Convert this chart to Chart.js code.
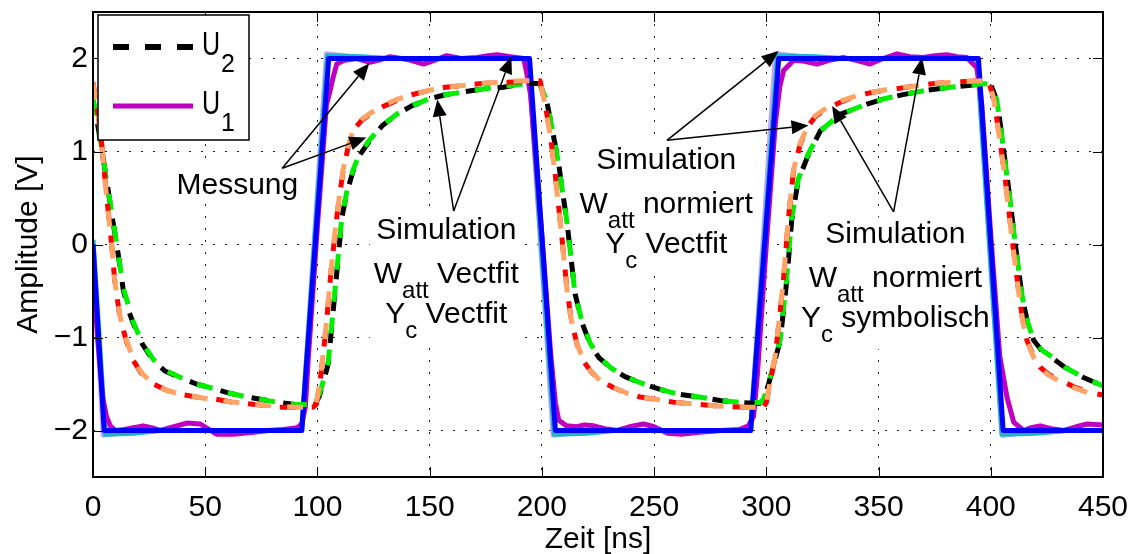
<!DOCTYPE html>
<html>
<head>
<meta charset="utf-8">
<script src="https://cdn.jsdelivr.net/npm/chart.js@4.4.1/dist/chart.umd.min.js"></script>
<style>
  html, body { margin: 0; padding: 0; background: #fff; }
  #wrap { width: 1136px; height: 554px; }
</style>
</head>
<body>
<div id="wrap"><canvas id="plot" width="1136" height="554"></canvas></div>
<script>
// Achsen
const xTicks = [0, 50, 100, 150, 200, 250, 300, 350, 400, 450];
const yTicks = [-2, -1, 0, 1, 2];

// Eingangsspannung U1: Simulation (blau, hellviolett, türkis) und Messung (magenta), [t in ns, U in V]
const u1Sim = [[0, 0], [5, -2], [93, -2], [105, 2], [194.5, 2], [206, -2], [293, -2], [305.5, 2], [394.5, 2], [405.5, -2], [450, -2]];
const u1SimB = [[0, 0.05], [4.5, -2.05], [12, -2.03], [20, -2.0], [93, -2], [104, 2.05], [112, 2.03], [120, 2.0], [194, 2], [205, -2.05], [213, -2.03], [222, -2.0], [293, -2], [304, 2.05], [312, 2.03], [320, 2.0], [394, 2], [405, -2.05], [413, -2.03], [422, -2.0], [450, -2]];
const u1SimC = [[0, 0.05], [5.5, -2.04], [18, -2.03], [30, -2.0], [93, -2], [104.5, 2.03], [120, 2.02], [132, 2.0], [194, 2], [205.5, -2.04], [220, -2.03], [232, -2.0], [293, -2], [305, 2.03], [322, 2.02], [334, 2.0], [394, 2], [405, -2.04], [420, -2.03], [434, -2.0], [450, -2.0]];
const u1Mess = [[0, -0.25], [2, -1.0], [4.3, -1.64], [6, -1.85], [7.7, -1.95], [10, -2.0], [14, -1.99], [18, -1.97], [22.4, -1.95], [26, -1.97], [30, -2.0], [36, -1.96], [41.8, -1.92], [47.8, -1.93], [55, -2.04], [62.5, -2.04], [71.5, -2.02], [78, -2.0], [84.8, -1.99], [91, -1.97], [93, -1.93], [94.6, -1.75], [96, -1.2], [100, 0.2], [104, 1.5], [105.6, 1.65], [107, 1.8], [108.6, 1.94], [112, 1.98], [117.5, 2.0], [123.4, 1.96], [127, 1.98], [132.4, 2.02], [140, 1.99], [147.3, 1.94], [152, 1.98], [157.6, 2.03], [164, 2.0], [171, 2.01], [176, 2.03], [180, 2.04], [186, 2.02], [191.9, 2.0], [193.6, 1.8], [195, 1.6], [200, 0.1], [204, -1.2], [206, -1.7], [207.5, -1.89], [211, -1.95], [215.5, -1.96], [219, -1.94], [223, -1.95], [228, -1.98], [233.5, -2.0], [239, -1.96], [245.3, -1.93], [250, -1.96], [256, -2.03], [262, -2.04], [270, -2.02], [280, -2.0], [288, -1.99], [292, -1.95], [294.3, -1.85], [296, -1.4], [300, 0.0], [304, 1.3], [306, 1.7], [307.7, 1.87], [312.2, 1.98], [317, 1.97], [322.6, 1.94], [328, 1.98], [334.5, 2.01], [340, 1.98], [346.3, 1.94], [352, 2.0], [358.2, 2.05], [364, 2.02], [370, 2.01], [375, 2.03], [380.4, 2.04], [385, 2.02], [389.3, 2.01], [393.8, 1.9], [396, 1.5], [400, 0.1], [404, -1.2], [407.2, -1.64], [410.2, -1.91], [414.6, -2.0], [418, -1.97], [422, -1.95], [427, -1.98], [432.5, -2.0], [438, -1.96], [443, -1.93], [450, -1.94]];

// Ausgangsspannung U2: Messung (schwarz) und drei Simulationen
const u2Mess = [[0, 1.55], [2, 1.3], [4, 1.0], [6.1, 0.69], [8.5, 0.3], [10.6, 0.0], [13.5, -0.49], [16, -0.72], [18, -0.85], [22, -1.07], [26.9, -1.25], [32, -1.36], [38.8, -1.43], [46, -1.5], [53.6, -1.55], [61, -1.6], [68.5, -1.64], [76, -1.67], [83.3, -1.7], [90, -1.72], [96, -1.73], [99, -1.72], [101, -1.62], [103, -1.45], [104.8, -1.28], [106.5, -0.85], [108.6, -0.31], [110.9, 0.29], [113, 0.55], [116, 0.8], [118.5, 0.95], [123.4, 1.12], [129, 1.28], [135.3, 1.4], [142, 1.49], [150.2, 1.57], [157, 1.61], [165, 1.64], [173, 1.67], [182.8, 1.69], [190, 1.72], [196, 1.73], [199, 1.73], [202.1, 1.55], [204.5, 1.25], [207.3, 0.9], [209, 0.6], [211.1, 0.26], [213, -0.15], [214.8, -0.53], [218, -0.85], [221.5, -1.07], [225.5, -1.22], [230.4, -1.32], [237, -1.42], [245.3, -1.5], [253, -1.56], [261, -1.61], [270, -1.64], [280, -1.68], [290, -1.7], [297, -1.71], [298.7, -1.68], [301, -1.5], [303.5, -1.28], [306.2, -1.03], [309.1, -0.39], [311.3, 0.26], [314.2, 0.69], [318.8, 0.97], [324, 1.22], [332.9, 1.4], [344.8, 1.51], [353, 1.57], [362.6, 1.62], [372, 1.66], [382, 1.69], [390, 1.71], [396.8, 1.73], [400, 1.72], [402.7, 1.55], [404.5, 1.25], [406.5, 0.87], [408.5, 0.5], [410.2, 0.15], [412, -0.2], [414, -0.57], [416.5, -0.85], [419.1, -1.03], [423, -1.15], [427.9, -1.23], [433, -1.32], [441.3, -1.43], [450, -1.52]];
const u2SimVV = [[0, 1.56], [2, 1.32], [4, 1.02], [6, 0.7], [8.5, 0.32], [10.5, 0.02], [13.5, -0.47], [18, -0.84], [22, -1.06], [27, -1.24], [32, -1.35], [39, -1.43], [46, -1.5], [54, -1.55], [61, -1.6], [68.5, -1.64], [76, -1.67], [83, -1.7], [90, -1.72], [96, -1.72], [99, -1.7], [101, -1.6], [103, -1.44], [104.8, -1.27], [106.5, -0.83], [108.6, -0.29], [110.9, 0.3], [113, 0.56], [116, 0.81], [118.5, 0.96], [123.4, 1.13], [129, 1.28], [135.3, 1.4], [142, 1.49], [150.2, 1.57], [157, 1.61], [165, 1.64], [173, 1.67], [182.8, 1.7], [190, 1.72], [196, 1.73], [199, 1.72], [202, 1.56], [204.5, 1.26], [207.2, 0.9], [209, 0.6], [211, 0.27], [213, -0.14], [214.7, -0.52], [218, -0.84], [221.5, -1.06], [225.5, -1.21], [230.4, -1.32], [237, -1.42], [245.3, -1.5], [253, -1.56], [261, -1.61], [270, -1.64], [280, -1.68], [290, -1.7], [297, -1.7], [298.7, -1.67], [301, -1.49], [303.5, -1.27], [306.2, -1.02], [309, -0.38], [311.2, 0.27], [314.2, 0.7], [318.8, 0.98], [324, 1.22], [332.9, 1.4], [344.8, 1.51], [353, 1.57], [362.6, 1.62], [372, 1.66], [382, 1.69], [390, 1.71], [396.8, 1.73], [400, 1.72], [402.6, 1.56], [404.5, 1.26], [406.4, 0.88], [408.5, 0.5], [410.1, 0.16], [412, -0.19], [414, -0.56], [416.5, -0.84], [419, -1.02], [423, -1.14], [428, -1.22], [433, -1.32], [441.3, -1.43], [450, -1.52]];
const u2SimNV = [[0, 1.74], [2, 1.45], [3.9, 1.08], [6.1, 0.51], [8.3, 0.0], [9.8, -0.42], [12, -0.78], [15, -1.05], [18, -1.25], [22, -1.4], [27, -1.5], [33, -1.57], [39, -1.61], [46, -1.64], [54, -1.66], [61, -1.69], [68.5, -1.71], [76, -1.73], [83, -1.75], [90, -1.75], [98, -1.75], [99.5, -1.72], [101, -1.5], [102.5, -1.2], [104, -0.85], [106, -0.3], [108.6, 0.29], [110, 0.55], [111.5, 0.8], [113.5, 1.03], [116, 1.23], [119.5, 1.33], [123.4, 1.4], [129, 1.48], [135.3, 1.55], [142, 1.61], [150.2, 1.66], [157, 1.69], [165, 1.71], [173, 1.73], [182.8, 1.745], [192, 1.75], [199.2, 1.76], [201.5, 1.5], [203.7, 1.19], [205.9, 0.76], [207.5, 0.4], [208.9, 0.08], [211.1, -0.46], [213, -0.8], [215.6, -1.07], [219, -1.27], [222, -1.37], [225.9, -1.46], [232, -1.54], [238, -1.6], [243.8, -1.64], [252, -1.67], [260, -1.7], [270, -1.72], [280, -1.74], [290, -1.75], [298.6, -1.75], [300, -1.7], [302, -1.45], [303.9, -1.21], [305.8, -0.8], [307.6, -0.39], [309.9, 0.29], [312.1, 0.79], [315.1, 1.08], [318.8, 1.28], [322, 1.38], [327, 1.46], [333, 1.53], [340.4, 1.6], [348, 1.64], [356.7, 1.67], [365, 1.7], [374.5, 1.73], [385, 1.75], [396.8, 1.76], [399, 1.75], [401.3, 1.58], [403.5, 1.22], [406.5, 0.69], [409.4, 0.08], [412.4, -0.5], [414, -0.78], [416.1, -1.03], [419, -1.2], [422, -1.32], [426, -1.4], [431, -1.46], [437, -1.53], [444, -1.59], [450, -1.62]];
const u2SimNS = [[0, 1.73], [2, 1.44], [3.9, 1.07], [6.1, 0.5], [8.3, 0.0], [9.8, -0.41], [12, -0.77], [15, -1.04], [18, -1.24], [22, -1.39], [27, -1.5], [33, -1.57], [39, -1.61], [46, -1.64], [54, -1.67], [61, -1.69], [68.5, -1.71], [76, -1.73], [83, -1.74], [90, -1.75], [98, -1.75], [99.5, -1.71], [101, -1.49], [102.5, -1.19], [104, -0.84], [106, -0.29], [108.6, 0.3], [110, 0.56], [111.5, 0.81], [113.5, 1.04], [116, 1.24], [119.5, 1.34], [123.4, 1.41], [129, 1.49], [135.3, 1.56], [142, 1.61], [150.2, 1.66], [157, 1.69], [165, 1.71], [173, 1.73], [182.8, 1.75], [192, 1.76], [199.2, 1.76], [201.5, 1.49], [203.7, 1.18], [205.9, 0.75], [207.5, 0.39], [208.9, 0.07], [211.1, -0.47], [213, -0.8], [215.6, -1.07], [219, -1.27], [222, -1.37], [225.9, -1.46], [232, -1.54], [238, -1.6], [243.8, -1.64], [252, -1.67], [260, -1.7], [270, -1.72], [280, -1.74], [290, -1.75], [298.6, -1.75], [300, -1.7], [302, -1.44], [303.9, -1.2], [305.8, -0.79], [307.6, -0.38], [309.9, 0.3], [312.1, 0.8], [315.1, 1.09], [318.8, 1.29], [322, 1.39], [327, 1.47], [333, 1.54], [340.4, 1.6], [348, 1.64], [356.7, 1.68], [365, 1.7], [374.5, 1.73], [385, 1.75], [396.8, 1.76], [399, 1.75], [401.3, 1.57], [403.5, 1.21], [406.5, 0.68], [409.4, 0.07], [412.4, -0.51], [414, -0.79], [416.1, -1.04], [419, -1.21], [422, -1.33], [426, -1.41], [431, -1.47], [437, -1.54], [444, -1.6], [450, -1.62]];

// Beschriftungen im Diagramm (Position in Daten-Einheiten, Zeilen aus [Text, tiefgestellt])
const notizen = [
  { x: 64.3, y: 0.544, zeilen: [[['Messung', 0]]] },
  { x: 157.4, y: 0.06, zeilen: [[['Simulation', 0]], [['W', 0], ['att', 1], [' Vectfit', 0]], [['Y', 0], ['c', 1], [' Vectfit', 0]]] },
  { x: 255.4, y: 0.812, zeilen: [[['Simulation', 0]], [['W', 0], ['att', 1], [' normiert', 0]], [['Y', 0], ['c', 1], [' Vectfit', 0]]] },
  { x: 357.5, y: 0.013, zeilen: [[['Simulation', 0]], [['W', 0], ['att', 1], [' normiert', 0]], [['Y', 0], ['c', 1], [' symbolisch', 0]]] }
];
// Pfeile: [t0, U0, t1, U1] von der Beschriftung zur Kurve
const pfeile = [
  [84.3, 0.82, 123.1, 1.95], [84.3, 0.82, 121.8, 1.15],
  [160.7, 0.36, 153.4, 1.56], [160.7, 0.36, 186.4, 2.02],
  [255.7, 1.12, 305.5, 2.08], [255.7, 1.12, 318.8, 1.28],
  [356.7, 0.35, 329.3, 1.49], [356.7, 0.35, 369.4, 2.01]
];

const schrift = '"Liberation Sans", Arial, Helvetica, sans-serif';
const punkte = arr => arr.map(([x, y]) => ({ x, y }));

function linie(label, daten, farbe, order, dash, dashOffset) {
  return {
    label, data: punkte(daten), borderColor: farbe, backgroundColor: farbe,
    borderWidth: 5, pointRadius: 0, tension: 0, fill: false, order,
    borderDash: dash || [], borderDashOffset: dashOffset || 0,
    borderCapStyle: 'butt', borderJoinStyle: 'round'
  };
}

function zeileBreite(ctx, teile) {
  let w = 0;
  for (const [t, sub] of teile) {
    ctx.font = (sub ? 24 : 30) + 'px ' + schrift;
    w += ctx.measureText(t).width;
  }
  return w;
}

function zeichneZeile(ctx, teile, cx, y) {
  let x = cx - zeileBreite(ctx, teile) / 2;
  for (const [t, sub] of teile) {
    ctx.font = (sub ? 24 : 30) + 'px ' + schrift;
    ctx.fillText(t, x, sub ? y + 15 : y);
    x += ctx.measureText(t).width;
  }
}

const zeilenAbstand = [0, 44, 84];

const extras = {
  id: 'extras',
  beforeDatasetsDraw(chart) {
    const { ctx, scales: { x, y } } = chart;
    ctx.save();
    ctx.fillStyle = '#000';
    ctx.textBaseline = 'alphabetic';
    for (const n of notizen) {
      const cx = x.getPixelForValue(n.x);
      const y0 = y.getPixelForValue(n.y);
      const breite = Math.max(...n.zeilen.map(z => zeileBreite(ctx, z)));
      const letzte = n.zeilen.length - 1;
      const unten = y0 + zeilenAbstand[letzte] + (n.zeilen[letzte].some(t => t[1]) ? 22 : 8);
      ctx.fillStyle = '#fff';
      ctx.fillRect(cx - breite / 2 - 4, y0 - 26, breite + 8, unten - y0 + 26);
      ctx.fillStyle = '#000';
      n.zeilen.forEach((z, i) => zeichneZeile(ctx, z, cx, y0 + zeilenAbstand[i]));
    }
    ctx.restore();
  },
  afterDatasetsDraw(chart) {
    const { ctx, chartArea: a, scales: { x, y } } = chart;
    ctx.save();
    // Pfeile
    ctx.strokeStyle = '#000';
    ctx.fillStyle = '#000';
    ctx.lineWidth = 1.5;
    for (const [t0, u0, t1, u1] of pfeile) {
      const x0 = x.getPixelForValue(t0), y0 = y.getPixelForValue(u0);
      const x1 = x.getPixelForValue(t1), y1 = y.getPixelForValue(u1);
      const w = Math.atan2(y1 - y0, x1 - x0);
      const len = 17, hb = 7;
      const bx = x1 - len * Math.cos(w), by = y1 - len * Math.sin(w);
      ctx.beginPath(); ctx.moveTo(x0, y0); ctx.lineTo(bx, by); ctx.stroke();
      ctx.beginPath();
      ctx.moveTo(x1, y1);
      ctx.lineTo(bx + hb * Math.sin(w), by - hb * Math.cos(w));
      ctx.lineTo(bx - hb * Math.sin(w), by + hb * Math.cos(w));
      ctx.closePath(); ctx.fill();
    }
    // Rahmen mit nach innen zeigenden Ticks
    ctx.lineWidth = 2;
    ctx.strokeRect(a.left, a.top, a.right - a.left, a.bottom - a.top);
    ctx.lineWidth = 1;
    ctx.beginPath();
    for (const t of xTicks) {
      const px = Math.round(x.getPixelForValue(t)) + 0.5;
      ctx.moveTo(px, a.bottom); ctx.lineTo(px, a.bottom - 10);
      ctx.moveTo(px, a.top); ctx.lineTo(px, a.top + 10);
    }
    for (const v of yTicks) {
      const py = Math.round(y.getPixelForValue(v)) + 0.5;
      ctx.moveTo(a.left, py); ctx.lineTo(a.left + 10, py);
      ctx.moveTo(a.right, py); ctx.lineTo(a.right - 10, py);
    }
    ctx.stroke();

    // Legende
    const l = a.left + 5, o = a.top + 3;
    ctx.fillStyle = '#fff';
    ctx.fillRect(l, o, 151, 125);
    ctx.lineWidth = 1.5;
    ctx.strokeStyle = '#000';
    ctx.strokeRect(l, o, 151, 125);
    const eintraege = [
      { ds: chart.data.datasets[7], sub: '2', yl: 32, w: 6 },
      { ds: chart.data.datasets[4], sub: '1', yl: 91, w: 5 }
    ];
    for (const e of eintraege) {
      ctx.strokeStyle = e.ds.borderColor;
      ctx.lineWidth = e.w;
      ctx.setLineDash(e.ds.label === 'U2' ? [16, 16] : []);
      ctx.beginPath(); ctx.moveTo(l + 15, o + e.yl); ctx.lineTo(l + 95, o + e.yl); ctx.stroke();
      ctx.setLineDash([]);
      ctx.fillStyle = '#000';
      ctx.save();
      ctx.translate(l + 104, o + e.yl + 8);
      ctx.scale(0.76, 1);
      ctx.font = '33px ' + schrift;
      ctx.fillText('U', 0, 0);
      ctx.restore();
      ctx.font = '25px ' + schrift;
      ctx.fillText(e.sub, l + 123, o + e.yl + 25);
    }
    ctx.restore();
  }
};

new Chart(document.getElementById('plot'), {
  type: 'line',
  data: {
    datasets: [
      linie('U2 Sim. Watt normiert, Yc symbolisch', u2SimNS, '#ffa466', 1, [16, 16], 0),
      linie('U2 Sim. Watt normiert, Yc Vectfit', u2SimNV, '#ff0000', 2, [16, 16], 6),
      linie('U2 Sim. Watt Vectfit, Yc Vectfit', u2SimVV, '#00ee00', 3, [16, 16], 0),
      linie('U1 Sim.', u1Sim, '#0000ff', 5, [], 0),
      linie('U1', u1Mess, '#bf00bf', 6, [], 0),
      linie('U1 Sim. B', u1SimC, '#19b8c8', 7, [], 0),
      linie('U1 Sim. C', u1SimB, '#c6a6f2', 8, [], 0),
      linie('U2', u2Mess, '#000000', 4, [16, 16], 8)
    ]
  },
  options: {
    responsive: false,
    animation: false,
    devicePixelRatio: 1,
    layout: { padding: { top: 12, right: 33, left: 0, bottom: 0 } },
    plugins: { legend: { display: false }, tooltip: { enabled: false } },
    scales: {
      x: {
        type: 'linear', min: 0, max: 450,
        afterBuildTicks: s => { s.ticks = xTicks.map(value => ({ value })); },
        afterFit: s => { s.height = 77; },
        grid: { color: '#222', lineWidth: 1, drawTicks: false },
        border: { display: false, dash: [2, 10] },
        ticks: { color: '#000', padding: 7, maxRotation: 0, font: { family: schrift, size: 30, lineHeight: 1.6 } },
        title: { display: true, text: 'Zeit [ns]', color: '#000', padding: { top: 0, bottom: -1 }, font: { family: schrift, size: 30, lineHeight: 1 } }
      },
      y: {
        type: 'linear', min: -2.5, max: 2.5,
        afterBuildTicks: s => { s.ticks = yTicks.map(value => ({ value })); },
        afterFit: s => { s.width = 93; },
        grid: { color: '#222', lineWidth: 1, drawTicks: false },
        border: { display: false, dash: [2, 10] },
        ticks: { color: '#000', padding: 5, font: { family: schrift, size: 30, lineHeight: 0.4 },
          callback: v => String(v).replace('-', '\u2212') },
        title: { display: true, text: 'Amplitude [V]', color: '#000', padding: { top: 14, bottom: 0 }, font: { family: schrift, size: 30, lineHeight: 1 } }
      }
    }
  },
  plugins: [extras]
});
</script>
</body>
</html>
